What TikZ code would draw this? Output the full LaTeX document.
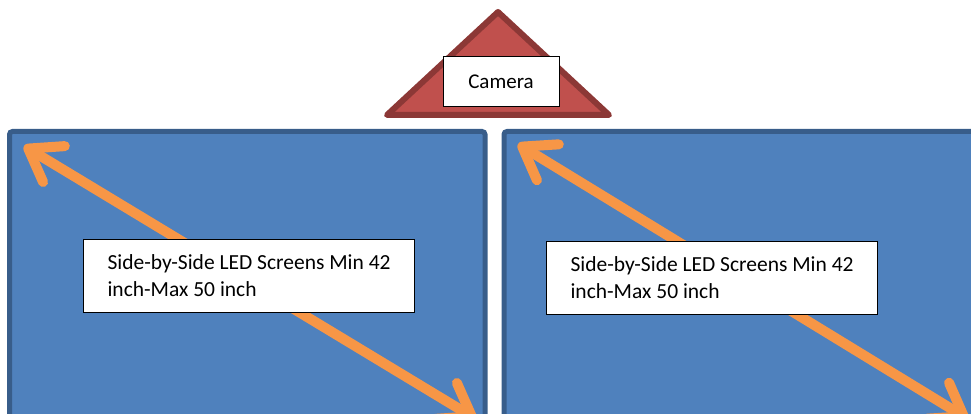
\documentclass[tikz,border=0pt]{standalone}
\usepackage{fontspec}
\setmainfont{Carlito}
\usetikzlibrary{arrows.meta}
\definecolor{screenblue}{HTML}{4F81BD}
\definecolor{screenedge}{HTML}{385D8A}
\definecolor{diagorange}{HTML}{F79646}
\definecolor{camred}{HTML}{C0504D}
\definecolor{camedge}{HTML}{8C3836}
\begin{document}
\begin{tikzpicture}[x=1pt, y=-1pt, style={
  screenstyle/.style={
    fill=screenblue,
    draw=screenedge,
    line width=5,
    rounded corners=3,
  },
  camerastyle/.style={
    fill=camred,
    draw=camedge,
    line width=6,
    line join=round,
  },
  boxstyle/.style={
    draw=black,
    fill=white,
    line width=1.2,
  },
  labelstyle/.style={
    boxstyle,
    anchor=north west,
    minimum width=331,
    minimum height=73,
    inner xsep=20,
    align=left,
    font=\fontsize{21.5}{27}\selectfont,
  },
  myarrow/.style={
    {Straight Barb[length=30pt, width=42pt, round]}-{Straight Barb[length=30pt, width=42pt, round]},
    draw=diagorange,
    line width=10,
    line cap=round,
  }
}]
\useasboundingbox (0,0) rectangle (971,414);
\clip (0,0) rectangle (971,414);
% screens
\draw[screenstyle] (9.5,131.5) rectangle (485,440);
\draw[screenstyle] (504,131.5) rectangle (1000,440);
% camera
\draw[camerastyle] (498,12) -- (609,115) -- (387,115) -- cycle;
\draw[]
  node[boxstyle, line width=1, minimum width=116, minimum height=50,
    font=\fontsize{21}{25}\selectfont] (camera) at (501,82) {Camera}
;
% diagonals
\coordinate (lefttop) at (24,146);
\coordinate (leftbottom) at (476,419);
\coordinate (righttop) at (518,144);
\coordinate (rightbottom) at (968,419);
\draw[myarrow] (lefttop) -- (leftbottom);
\draw[myarrow] (righttop) -- (rightbottom);
% labels
\draw[]
  node[labelstyle] (leftlabel) at (83,239) {
    Side-by-Side LED Screens Min 42\\inch-Max 50 inch
  }
  node[labelstyle] (rightlabel) at (546,241) {
    Side-by-Side LED Screens Min 42\\inch-Max 50 inch
  }
;
\end{tikzpicture}
\end{document}
